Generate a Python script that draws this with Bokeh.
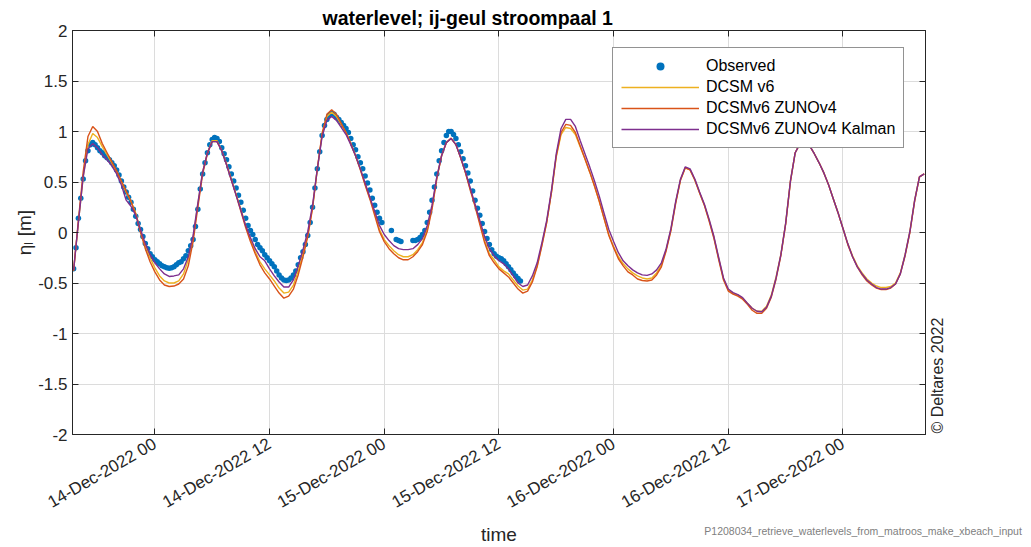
import math
import pandas as pd
from bokeh.plotting import figure
from bokeh.models import (Range1d, FixedTicker, DatetimeTickFormatter, CustomJSTickFormatter,
                          LinearAxis, DatetimeAxis, Legend, LegendItem)
from bokeh.embed import file_html
from bokeh.resources import INLINE

nan = float("nan")

# ---------------- data ----------------
obs_start = "2022-12-13 15:30"
obs_step = "15min"
observed = [
    -0.36, -0.15, 0.14, 0.34, 0.53, 0.71, 0.81, 0.87,
    0.89, 0.87, 0.84, 0.81, 0.79, 0.76, 0.74, 0.72,
    0.69, 0.66, 0.62, 0.57, 0.51, 0.45, 0.40, 0.35,
    0.30, 0.23, 0.16, 0.09, 0.03, -0.04, -0.11, -0.16,
    -0.21, -0.24, -0.27, -0.29, -0.31, -0.33, -0.34, -0.35,
    -0.355, -0.35, -0.34, -0.32, -0.30, -0.29, -0.26, -0.23,
    -0.18, -0.13, -0.07, 0.06, 0.23, 0.43, 0.58, 0.69,
    0.79, 0.87, 0.92, 0.94, 0.93, 0.90, 0.84, 0.78,
    0.72, 0.65, 0.58, 0.51, 0.44, 0.37, 0.30, 0.22,
    0.14, 0.07, 0.02, -0.02, -0.07, -0.12, -0.15, -0.18,
    -0.22, -0.25, -0.28, -0.31, -0.34, -0.38, -0.42, -0.45,
    -0.47, -0.475, -0.47, -0.45, -0.42, -0.38, -0.32, -0.25,
    -0.19, -0.12, -0.03, 0.10, 0.25, 0.44, 0.63, 0.80,
    0.96, 1.06, 1.12, 1.16, 1.18, 1.17, 1.14, 1.12,
    1.09, 1.06, 1.03, 0.99, 0.93, 0.87, 0.82, 0.75,
    0.69, 0.63, 0.56, 0.49, 0.42, 0.34, 0.27, 0.20,
    0.14, 0.10, nan, nan, nan, 0.02, nan, -0.07,
    -0.08, -0.09, nan, nan, nan, nan, -0.08, -0.08,
    -0.07, -0.05, -0.02, 0.02, 0.10, 0.20, 0.32, 0.45,
    0.58, 0.71, 0.81, 0.89, 0.96, 1.00, 1.00, 0.97,
    0.93, 0.87, 0.80, 0.73, 0.66, 0.59, 0.51, 0.41,
    0.32, 0.24, 0.17, 0.09, 0.01, -0.06, -0.12, -0.17,
    -0.21, -0.235, -0.25, -0.26, -0.28, -0.31, -0.34, -0.37,
    -0.40, -0.43, -0.455, -0.48,
]

model_start = "2022-12-13 15:30"
model_step = "30min"
dcsm_v6 = [
    -0.37, 0.10, 0.55, 0.87, 0.98, 0.94, 0.85, 0.77, 0.69, 0.60,
    0.50, 0.40, 0.31, 0.19, 0.02, -0.13, -0.25, -0.35, -0.43, -0.48,
    -0.50, -0.50, -0.48, -0.41, -0.27, -0.05, 0.28, 0.60, 0.79, 0.91,
    0.91, 0.81, 0.68, 0.53, 0.38, 0.23, 0.07, -0.07, -0.19, -0.29,
    -0.36, -0.42, -0.48, -0.55, -0.60, -0.59, -0.52, -0.38, -0.21, -0.02,
    0.25, 0.63, 0.97, 1.15, 1.19, 1.15, 1.07, 0.99, 0.88, 0.76,
    0.63, 0.48, 0.34, 0.19, 0.03, -0.07, -0.13, -0.18, -0.22, -0.24,
    -0.24, -0.22, -0.17, -0.10, 0.03, 0.25, 0.54, 0.76, 0.89, 0.93,
    0.87, 0.74, 0.59, 0.43, 0.27, 0.10, -0.08, -0.21, -0.27, -0.34,
    -0.38, -0.41, -0.47, -0.53, -0.57, -0.56, -0.47, -0.33, -0.12, 0.10,
    0.40, 0.75, 0.97, 1.04, 1.03, 0.97, 0.85, 0.73, 0.60, 0.46,
    0.31, 0.14, -0.02, -0.14, -0.24, -0.31, -0.36, -0.40, -0.43, -0.45,
    -0.46, -0.45, -0.40, -0.32, -0.17, 0.03, 0.30, 0.52, 0.64, 0.62,
    0.52, 0.39, 0.27, 0.12, -0.05, -0.26, -0.46, -0.57, -0.60, -0.62,
    -0.65, -0.70, -0.75, -0.78, -0.78, -0.73, -0.62, -0.44, -0.22, 0.09,
    0.51, 0.79, 0.88, 0.90, 0.86, 0.78, 0.69, 0.59, 0.47, 0.33,
    0.19, 0.04, -0.11, -0.23, -0.33, -0.40, -0.46, -0.50, -0.53, -0.545,
    -0.545, -0.535, -0.50, -0.40, -0.22, 0.01, 0.32, 0.55, 0.58,
]
dcsmv6_zunov4 = [
    -0.38, 0.12, 0.60, 0.95, 1.05, 1.00, 0.88, 0.79, 0.70, 0.61,
    0.51, 0.41, 0.31, 0.18, 0.00, -0.16, -0.29, -0.39, -0.47, -0.52,
    -0.535, -0.53, -0.51, -0.46, -0.33, -0.09, 0.25, 0.58, 0.78, 0.90,
    0.90, 0.81, 0.67, 0.52, 0.37, 0.21, 0.05, -0.09, -0.21, -0.32,
    -0.40, -0.46, -0.53, -0.60, -0.65, -0.63, -0.56, -0.42, -0.24, -0.04,
    0.24, 0.63, 0.98, 1.17, 1.215, 1.17, 1.08, 0.99, 0.88, 0.76,
    0.62, 0.47, 0.33, 0.17, 0.01, -0.09, -0.16, -0.21, -0.25, -0.27,
    -0.27, -0.24, -0.19, -0.12, 0.01, 0.23, 0.53, 0.76, 0.89, 0.935,
    0.87, 0.74, 0.59, 0.42, 0.26, 0.08, -0.10, -0.23, -0.30, -0.36,
    -0.40, -0.44, -0.50, -0.56, -0.60, -0.58, -0.49, -0.34, -0.13, 0.10,
    0.40, 0.76, 0.99, 1.07, 1.06, 0.99, 0.86, 0.73, 0.60, 0.46,
    0.31, 0.14, -0.03, -0.15, -0.26, -0.33, -0.39, -0.42, -0.46, -0.475,
    -0.48, -0.47, -0.42, -0.34, -0.18, 0.02, 0.29, 0.52, 0.64, 0.62,
    0.52, 0.39, 0.27, 0.11, -0.06, -0.27, -0.47, -0.58, -0.61, -0.63,
    -0.66, -0.71, -0.77, -0.80, -0.80, -0.75, -0.64, -0.46, -0.23, 0.08,
    0.50, 0.79, 0.88, 0.90, 0.86, 0.78, 0.69, 0.59, 0.47, 0.33,
    0.19, 0.04, -0.12, -0.24, -0.34, -0.42, -0.48, -0.52, -0.55, -0.565,
    -0.565, -0.55, -0.51, -0.41, -0.23, 0.00, 0.31, 0.55, 0.58,
]
dcsmv6_zunov4_kalman = [
    -0.37, 0.10, 0.55, 0.83, 0.88, 0.84, 0.77, 0.72, 0.66, 0.58,
    0.47, 0.32, 0.26, 0.17, 0.03, -0.11, -0.22, -0.30, -0.36, -0.41,
    -0.435, -0.43, -0.42, -0.36, -0.24, -0.03, 0.29, 0.60, 0.79, 0.90,
    0.90, 0.81, 0.67, 0.52, 0.37, 0.22, 0.07, -0.05, -0.16, -0.24,
    -0.28, -0.36, -0.43, -0.49, -0.54, -0.54, -0.47, -0.33, -0.17, 0.01,
    0.27, 0.63, 0.95, 1.11, 1.15, 1.11, 1.04, 0.97, 0.87, 0.76,
    0.63, 0.49, 0.35, 0.21, 0.07, -0.02, -0.08, -0.13, -0.16, -0.17,
    -0.17, -0.16, -0.12, -0.06, 0.07, 0.27, 0.55, 0.76, 0.89, 0.93,
    0.87, 0.74, 0.60, 0.44, 0.28, 0.12, -0.04, -0.16, -0.23, -0.28,
    -0.31, -0.36, -0.43, -0.50, -0.535, -0.52, -0.43, -0.30, -0.10, 0.12,
    0.42, 0.78, 1.03, 1.12, 1.12, 1.05, 0.91, 0.78, 0.65, 0.51,
    0.36, 0.19, 0.03, -0.09, -0.20, -0.28, -0.33, -0.37, -0.40, -0.42,
    -0.425, -0.41, -0.37, -0.30, -0.16, 0.04, 0.31, 0.53, 0.65, 0.63,
    0.53, 0.40, 0.28, 0.13, -0.04, -0.25, -0.45, -0.56, -0.595, -0.615,
    -0.645, -0.70, -0.75, -0.78, -0.785, -0.74, -0.63, -0.45, -0.22, 0.09,
    0.51, 0.79, 0.88, 0.90, 0.86, 0.78, 0.69, 0.59, 0.47, 0.33,
    0.19, 0.04, -0.11, -0.24, -0.34, -0.41, -0.47, -0.51, -0.545, -0.56,
    -0.56, -0.545, -0.51, -0.41, -0.22, 0.01, 0.32, 0.55, 0.58,
]

series_labels = ["Observed", "DCSM v6", "DCSMv6 ZUNOv4", "DCSMv6 ZUNOv4 Kalman"]
series_colors = ["#0072BD", "#EDB120", "#D95319", "#7E2F8E"]

x_tick_times = ["2022-12-14 00:00", "2022-12-14 12:00", "2022-12-15 00:00",
                "2022-12-15 12:00", "2022-12-16 00:00", "2022-12-16 12:00",
                "2022-12-17 00:00"]
y_ticks = [-2, -1.5, -1, -0.5, 0, 0.5, 1, 1.5, 2]
x_start = "2022-12-13 15:23"
x_end = "2022-12-17 08:38"

title_text = "waterlevel; ij-geul stroompaal 1"
x_label = "time"
y_label = "\u03b7\u2097 [m]"
copyright_text = "\u00a9 Deltares 2022"
footer_text = "P1208034_retrieve_waterlevels_from_matroos_make_xbeach_input"
footer_anchor_time = "2022-12-17 02:06"   # centre of footer text
copyright_anchor_y = -1.99                 # bottom of copyright text

# ---------------- plot ----------------
t_obs = pd.date_range(obs_start, periods=len(observed), freq=obs_step)
t_mod = pd.date_range(model_start, periods=len(dcsm_v6), freq=model_step)
ms = lambda t: pd.Timestamp(t).timestamp() * 1000.0
x_ticks_ms = [ms(t) for t in x_tick_times]

FONT = "Liberation Sans"
AX = "#262626"

p = figure(width=1031, height=547, x_axis_type="datetime", title=title_text,
           x_range=Range1d(pd.Timestamp(x_start), pd.Timestamp(x_end)),
           y_range=Range1d(-2, 2), output_backend="svg", toolbar_location=None,
           min_border_left=72, min_border_right=106, min_border_top=30, min_border_bottom=113)
p.background_fill_color = "white"
p.border_fill_color = "white"
p.outline_line_color = AX
p.outline_line_width = 1

p.title.text_font = FONT
p.title.text_font_size = "19.5px"
p.title.text_font_style = "bold"
p.title.text_color = "black"
p.title.align = "left"
p.title.offset = 250
p.title.standoff = 3

xt = FixedTicker(ticks=x_ticks_ms)
yt = FixedTicker(ticks=y_ticks)
fmt = "%d-%b-%Y %H"
p.xaxis.ticker = xt
p.xaxis.formatter = DatetimeTickFormatter(hours=fmt, hourmin=fmt, days=fmt, months=fmt,
                                          years=fmt, minutes=fmt, minsec=fmt, seconds=fmt)
p.yaxis.ticker = yt
p.yaxis.formatter = CustomJSTickFormatter(code="return tick.toString();")

for ax in (p.xaxis[0], p.yaxis[0]):
    ax.major_tick_in = 6
    ax.major_tick_out = 0
    ax.minor_tick_line_color = None
    ax.axis_line_color = AX
    ax.major_tick_line_color = AX
    ax.major_label_text_font = FONT
    ax.major_label_text_font_size = "17px"
    ax.major_label_text_color = AX
p.xaxis.major_label_orientation = math.pi / 6
p.xaxis.major_label_standoff = 8
p.yaxis.major_label_standoff = 5
p.yaxis.axis_label = y_label
p.yaxis.axis_label_text_font = FONT
p.yaxis.axis_label_text_font_size = "19px"
p.yaxis.axis_label_text_font_style = "normal"
p.yaxis.axis_label_text_color = AX
p.yaxis.axis_label_standoff = 0

blank = "return '';"
top = DatetimeAxis(ticker=xt, formatter=CustomJSTickFormatter(code=blank),
                   major_tick_in=6, major_tick_out=0, minor_tick_line_color=None,
                   axis_line_color=AX, major_tick_line_color=AX, major_label_standoff=0,
                   major_label_text_font_size="0px")
right = LinearAxis(ticker=yt, formatter=CustomJSTickFormatter(code=blank),
                   major_tick_in=6, major_tick_out=0, minor_tick_line_color=None,
                   axis_line_color=AX, major_tick_line_color=AX, major_label_standoff=0,
                   major_label_text_font_size="0px")
p.add_layout(top, "above")
p.add_layout(right, "right")

# copyright text as a rotated label on an extra, line-less right axis
copy_axis = LinearAxis(ticker=FixedTicker(ticks=[copyright_anchor_y]),
                       formatter=CustomJSTickFormatter(args=dict(t=copyright_text), code="return t;"),
                       major_tick_in=0, major_tick_out=0, minor_tick_line_color=None,
                       axis_line_color=None, major_tick_line_color=None,
                       major_label_orientation=math.pi / 2, major_label_standoff=12,
                       major_label_text_font=FONT, major_label_text_font_size="16px",
                       major_label_text_color=AX)
p.add_layout(copy_axis, "right")

# footer + "time" on an extra, line-less axis below the main one
foot_axis = LinearAxis(ticker=FixedTicker(ticks=[ms(footer_anchor_time)]),
                       formatter=CustomJSTickFormatter(args=dict(t=footer_text), code="return t;"),
                       major_tick_in=0, major_tick_out=0, minor_tick_line_color=None,
                       axis_line_color=None, major_tick_line_color=None,
                       major_label_standoff=2, major_label_text_font=FONT,
                       major_label_text_font_size="10.5px", major_label_text_color="#808080",
                       axis_label=x_label, axis_label_standoff=-16,
                       axis_label_text_font=FONT, axis_label_text_font_size="19px",
                       axis_label_text_font_style="normal", axis_label_text_color=AX)
p.add_layout(foot_axis, "below")

p.xgrid.ticker = xt
p.ygrid.ticker = yt
p.grid.grid_line_color = "#dcdcdc"
p.grid.grid_line_width = 1

r_obs = p.scatter(t_obs, observed, size=5.5, color=series_colors[0], line_width=0)
r1 = p.line(t_mod, dcsm_v6, color=series_colors[1], line_width=1.4)
r2 = p.line(t_mod, dcsmv6_zunov4, color=series_colors[2], line_width=1.4)
r3 = p.line(t_mod, dcsmv6_zunov4_kalman, color=series_colors[3], line_width=1.4)

legend = Legend(items=[LegendItem(label=series_labels[0], renderers=[r_obs]),
                       LegendItem(label=series_labels[1], renderers=[r1]),
                       LegendItem(label=series_labels[2], renderers=[r2]),
                       LegendItem(label=series_labels[3], renderers=[r3])],
                location=(540, 286), glyph_width=78, glyph_height=20, label_height=20,
                spacing=1, padding=8, margin=0, label_standoff=7,
                label_text_font=FONT, label_text_font_size="16px", label_text_color="black",
                border_line_color=AX, border_line_width=1, background_fill_alpha=1.0)
p.add_layout(legend)

open("out.html", "w").write(file_html(p, INLINE))
